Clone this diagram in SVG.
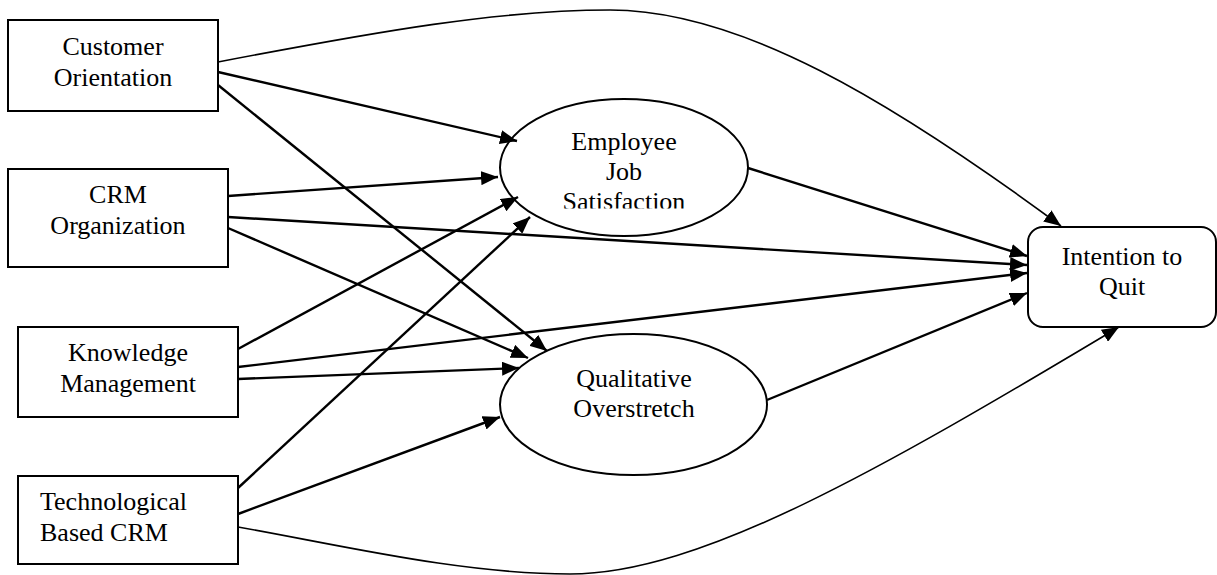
<svg xmlns="http://www.w3.org/2000/svg" width="1217" height="575" viewBox="0 0 1217 575">
<style>
.box{fill:#fff;stroke:#000;stroke-width:2}
.lbl{font-family:"Liberation Serif","Times New Roman",serif;font-size:26px;fill:#000;text-anchor:middle}
.c{fill:none;stroke:#000;stroke-width:2.4;marker-end:url(#ah)}
.cv{fill:none;stroke:#000;stroke-width:1.6;marker-end:url(#ah)}
</style>
<defs>
<marker id="ah" markerUnits="userSpaceOnUse" markerWidth="18" markerHeight="14" refX="17" refY="7" orient="auto">
<path d="M0,0 L17,7 L0,14 z" fill="#000"/>
</marker>
<clipPath id="ejsClip"><rect x="500" y="100" width="250" height="108.5"/></clipPath>
</defs>
<rect width="1217" height="575" fill="#fff"/>
<g id="nodes">
<g id="customer-orientation">
<rect class="box" x="8" y="20" width="210" height="91"/>
<text class="lbl" x="113" y="54.5">Customer</text>
<text class="lbl" x="113" y="85.5">Orientation</text>
</g>
<g id="crm-organization">
<rect class="box" x="8" y="169" width="220" height="98"/>
<text class="lbl" x="118" y="203">CRM</text>
<text class="lbl" x="118" y="233.5">Organization</text>
</g>
<g id="knowledge-management">
<rect class="box" x="18" y="327" width="220" height="90"/>
<text class="lbl" x="128" y="361">Knowledge</text>
<text class="lbl" x="128" y="391.5">Management</text>
</g>
<g id="technological-based-crm">
<rect class="box" x="18" y="476" width="220" height="88"/>
<text class="lbl" x="40" y="510" style="text-anchor:start">Technological</text>
<text class="lbl" x="40" y="540.5" style="text-anchor:start">Based CRM</text>
</g>
<g id="employee-job-satisfaction">
<ellipse class="box" cx="624" cy="167.5" rx="124" ry="68.5"/>
<g clip-path="url(#ejsClip)">
<text class="lbl" x="624" y="150">Employee</text>
<text class="lbl" x="624" y="180">Job</text>
<text class="lbl" x="624" y="210">Satisfaction</text>
</g>
</g>
<g id="qualitative-overstretch">
<ellipse class="box" cx="633.5" cy="404.5" rx="133.5" ry="70.5"/>
<text class="lbl" x="634" y="386.5">Qualitative</text>
<text class="lbl" x="634" y="416.5">Overstretch</text>
</g>
<g id="intention-to-quit">
<rect class="box" x="1028" y="227" width="188" height="100" rx="15" ry="15"/>
<text class="lbl" x="1122" y="265">Intention to</text>
<text class="lbl" x="1122" y="295">Quit</text>
</g>
</g>
<g id="connectors">
<path class="cv" d="M218,62 C380,31 500,10 610,10 C740,10 890,100 1061,226"/>
<path class="c" d="M218,72 L517,141"/>
<path class="c" d="M218,85 L547,351"/>
<path class="c" d="M228,196 L498,177"/>
<path class="c" d="M228,217 L1027,265"/>
<path class="c" d="M228,228 L528,358"/>
<path class="c" d="M238,349 L518,197"/>
<path class="c" d="M238,367 L1027,273"/>
<path class="c" d="M238,379 L519,368"/>
<path class="c" d="M238,488 L530,217"/>
<path class="c" d="M238,514 L500,417"/>
<path class="cv" d="M238,527 C340,545 460,574 570,574 C700,574 880,470 1119,327"/>
<path class="c" d="M748,168 L1027,256"/>
<path class="c" d="M767,400 L1027,293"/>
</g>
</svg>
